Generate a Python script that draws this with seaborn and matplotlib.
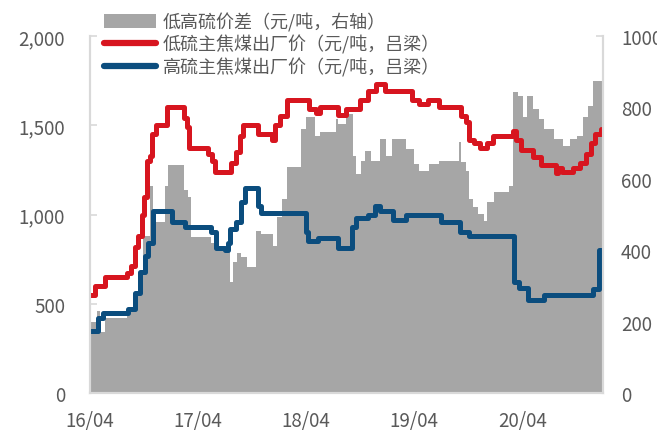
import pandas as pd
import matplotlib.pyplot as plt
import matplotlib.dates as mdates
import matplotlib.ticker as mticker
import seaborn as sns

# 数据（阶梯变化点）
low_dates = ['2016-04-01', '2016-04-18', '2016-05-23', '2016-08-03', '2016-08-17', '2016-08-31',
             '2016-09-10', '2016-09-23', '2016-10-02', '2016-10-09', '2016-10-20', '2016-10-26',
             '2016-11-09', '2016-12-16', '2017-02-11', '2017-02-22', '2017-03-01', '2017-05-04',
             '2017-05-19', '2017-05-27', '2017-07-22', '2017-08-06', '2017-08-19', '2017-08-30',
             '2017-10-21', '2017-12-05', '2017-12-16', '2018-01-02', '2018-01-25', '2018-04-12',
             '2018-05-04', '2018-05-16', '2018-07-17', '2018-08-14', '2018-09-28', '2018-10-27',
             '2018-11-24', '2018-12-22', '2019-03-25', '2019-04-18', '2019-05-16', '2019-06-24',
             '2019-09-06', '2019-09-23', '2019-10-04', '2019-10-21', '2019-11-10', '2019-12-04',
             '2019-12-22', '2020-02-28', '2020-03-10', '2020-03-26', '2020-05-04', '2020-06-02',
             '2020-07-22', '2020-07-29', '2020-08-13', '2020-09-17', '2020-10-10', '2020-11-02',
             '2020-11-19', '2020-11-30', '2020-12-22']
low_price = [550, 600, 650, 670, 710, 820,
             880, 1000, 1100, 1300, 1330, 1450,
             1500, 1600, 1540, 1490, 1370, 1340,
             1300, 1240, 1290, 1350, 1440, 1500,
             1450, 1420, 1500, 1550, 1640, 1590,
             1570, 1600, 1560, 1590, 1640, 1690,
             1730, 1690, 1640, 1620, 1640, 1600,
             1550, 1520, 1420, 1400, 1370, 1400,
             1440, 1470, 1420, 1360, 1320, 1280,
             1230, 1260, 1240, 1260, 1290, 1340,
             1400, 1450, 1480]

high_dates = ['2016-04-01', '2016-04-29', '2016-05-15', '2016-08-08', '2016-08-31', '2016-09-17',
              '2016-10-03', '2016-10-15', '2016-11-01', '2017-01-02', '2017-02-16', '2017-05-16',
              '2017-06-02', '2017-06-30', '2017-07-11', '2017-07-16', '2017-08-08', '2017-08-25',
              '2017-09-06', '2017-10-21', '2017-11-01', '2018-04-01', '2018-04-07', '2018-05-10',
              '2018-07-17', '2018-09-01', '2018-09-17', '2018-10-27', '2018-11-19', '2018-12-05',
              '2019-01-19', '2019-03-04', '2019-06-30', '2019-09-01', '2019-10-04', '2020-03-04',
              '2020-03-20', '2020-04-18', '2020-06-13', '2020-11-24', '2020-12-16', '2020-12-22']
high_price = [350, 420, 450, 470, 560, 680,
              770, 840, 1020, 960, 930, 900,
              810, 800, 840, 920, 960, 1070,
              1150, 1050, 1010, 900, 850, 870,
              810, 930, 980, 1000, 1050, 1020,
              970, 1000, 960, 900, 880, 620,
              590, 520, 550, 580, 800, 800]

spread_dates = ['2016-04-01', '2016-04-23', '2016-05-04', '2016-05-21', '2016-08-05', '2016-08-24',
                '2016-09-17', '2016-09-28', '2016-10-20', '2016-11-01', '2016-12-10', '2016-12-21',
                '2017-02-11', '2017-02-27', '2017-03-07', '2017-05-16', '2017-06-03', '2017-07-16',
                '2017-07-27', '2017-08-09', '2017-08-25', '2017-09-12', '2017-10-15', '2017-11-01',
                '2017-12-10', '2017-12-22', '2018-01-08', '2018-01-25', '2018-03-15', '2018-04-01',
                '2018-04-29', '2018-05-16', '2018-07-11', '2018-07-17', '2018-08-14', '2018-09-06',
                '2018-09-17', '2018-10-04', '2018-10-18', '2018-11-07', '2018-12-05', '2018-12-27',
                '2019-01-14', '2019-03-04', '2019-04-01', '2019-04-18', '2019-05-21', '2019-06-24',
                '2019-08-29', '2019-09-06', '2019-09-23', '2019-10-04', '2019-10-15', '2019-11-01',
                '2019-11-21', '2019-12-04', '2019-12-27', '2020-02-16', '2020-02-28', '2020-03-15',
                '2020-04-01', '2020-04-16', '2020-05-04', '2020-05-27', '2020-06-13', '2020-07-17',
                '2020-08-14', '2020-09-06', '2020-10-01', '2020-10-21', '2020-11-07', '2020-11-24',
                '2020-12-25']
spread = [200, 230, 170, 210, 230, 280,
          330, 440, 580, 480, 580, 640,
          570, 550, 436, 420, 400, 310,
          366, 392, 380, 352, 455, 445,
          413, 492, 543, 632, 739, 772,
          721, 730, 768, 753, 781, 665,
          613, 651, 679, 651, 711, 665,
          711, 683, 641, 623, 641, 651,
          702, 646, 623, 543, 520, 501,
          483, 534, 562, 581, 842, 833,
          772, 833, 795, 767, 739, 711,
          692, 711, 721, 772, 805, 875,
          875]

year_ticks = ['2016-04-01', '2017-04-01', '2018-04-01', '2019-04-01', '2020-04-01']

# 样式
sns.set_theme(style="white")
plt.rcParams['font.family'] = ['Noto Sans CJK SC', 'DejaVu Sans']
text_color = '#595959'
spine_color = '#D9D9D9'

fig = plt.figure(figsize=(6.57, 4.31), dpi=100)
ax = fig.add_axes([90 / 657, 37 / 431, 513 / 657, 357 / 431])
ax2 = ax.twinx()

# 价差面积（右轴）
sd = pd.to_datetime(spread_dates)
area = ax2.fill_between(sd, spread, step='post', color='#A6A6A6', lw=0,
                        label='低高硫价差（元/吨，右轴）')

# 价格线（左轴）
df_low = pd.DataFrame({'date': pd.to_datetime(low_dates), 'price': low_price})
df_high = pd.DataFrame({'date': pd.to_datetime(high_dates), 'price': high_price})
sns.lineplot(data=df_low, x='date', y='price', ax=ax, color='#D7151F', lw=3.6,
             drawstyle='steps-post', solid_joinstyle='round', solid_capstyle='round',
             label='低硫主焦煤出厂价（元/吨，吕梁）', legend=False)
sns.lineplot(data=df_high, x='date', y='price', ax=ax, color='#0B4D7E', lw=3.6,
             drawstyle='steps-post', solid_joinstyle='round', solid_capstyle='round',
             label='高硫主焦煤出厂价（元/吨，吕梁）', legend=False)

ax.set_zorder(ax2.get_zorder() + 1)
ax.patch.set_visible(False)

ax.set_xlim(pd.Timestamp('2016-04-01'), pd.Timestamp('2020-12-28'))
ax.set_ylim(0, 2000)
ax2.set_ylim(0, 1000)
ax.set_xticks(pd.to_datetime(year_ticks))
ax.xaxis.set_major_formatter(mdates.DateFormatter('%y/%m'))
ax.yaxis.set_major_locator(mticker.MultipleLocator(500))
ax.yaxis.set_major_formatter(mticker.StrMethodFormatter('{x:,.0f}'))
ax2.yaxis.set_major_locator(mticker.MultipleLocator(200))
ax.set_xlabel('')
ax.set_ylabel('')
ax2.set_ylabel('')
ax2.grid(False)
ax.grid(False)

for a in (ax, ax2):
    for s in a.spines.values():
        s.set_color(spine_color)
        s.set_linewidth(1.5)
    a.spines['top'].set_visible(False)
    a.tick_params(colors=text_color, labelsize=13.5, direction='in', length=5,
                  width=1.2, color=spine_color)
ax.tick_params(axis='y', pad=18)
ax.tick_params(axis='x', pad=12)
ax2.tick_params(axis='y', pad=13)

handles = [area] + ax.get_lines()
labels = [h.get_label() for h in handles]
leg = fig.legend(handles, labels, loc='upper left', bbox_to_anchor=(104 / 657, 1 - 13 / 431),
                 frameon=False, fontsize=13, handlelength=2.9, handleheight=0.8,
                 handletextpad=0.35, labelspacing=0.2, borderpad=0, borderaxespad=0)
for t in leg.get_texts():
    t.set_color(text_color)
for line in leg.get_lines():
    line.set_solid_capstyle('round')
    line.set_linewidth(4.5)

fig.savefig('out.png', dpi=100)
